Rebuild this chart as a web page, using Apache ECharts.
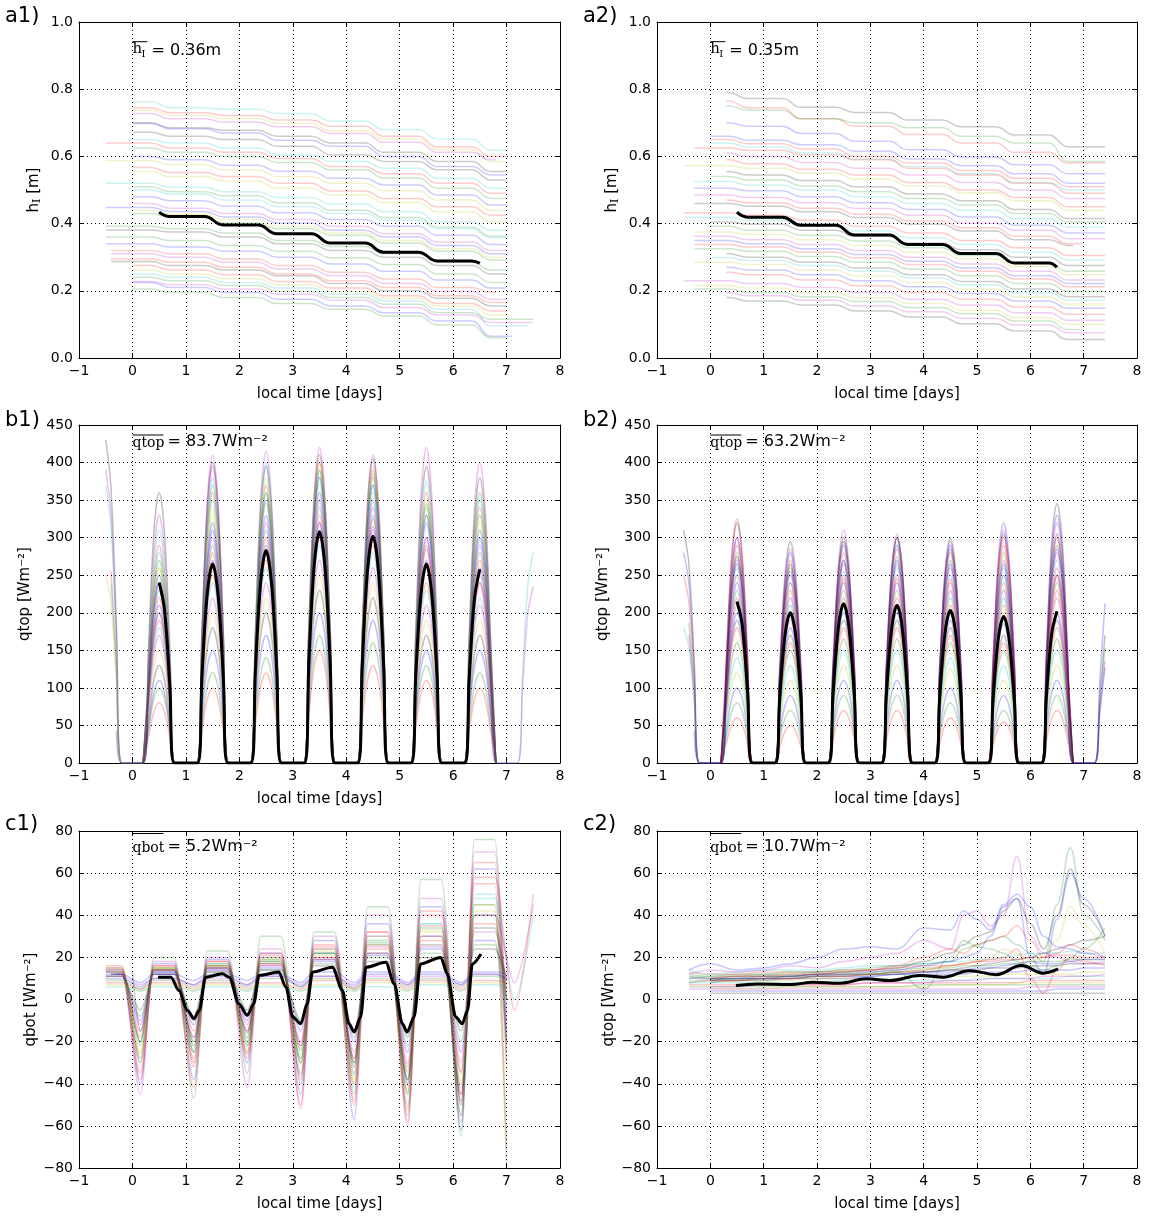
<!DOCTYPE html>
<html><head><meta charset="utf-8">
<script src="https://cdn.jsdelivr.net/npm/echarts/dist/echarts.min.js"></script>
<style>html,body{margin:0;padding:0;background:#fff}#c{width:1149px;height:1218px}</style>
</head><body><div id="c"></div><script>
// ---------- tick / axis values ----------
const xTickMin = -1, xTickMax = 8, xTickStep = 1;
const yTicksA = [0, 0.2, 0.4, 0.6, 0.8, 1.0];
const yTicksB = [0, 50, 100, 150, 200, 250, 300, 350, 400, 450];
const yTicksC = [-80, -60, -40, -20, 0, 20, 40, 60, 80];
const COLORS = {b:'#0000ff', g:'#008000', r:'#ff0000', c:'#00bfbf', m:'#bf00bf', y:'#bfbf00', k:'#000000'};

// ---------- panel a: ice thickness (plateau levels per night, 8 plateaus) ----------
const PLAT_START = [-0.3, 0.7, 1.7, 2.7, 3.7, 4.7, 5.7, 6.7];
const PLAT_END   = [0.35, 1.35, 2.35, 3.35, 4.35, 5.35, 6.35, 7.35];
const a1Members = [
 ['c',0,7.0,[.763,.745,.740,.728,.705,.680,.652,.618]],
 ['r',0,7.0,[.745,.730,.722,.708,.690,.660,.628,.600]],
 ['y',0,7.0,[.738,.722,.712,.698,.676,.652,.620,.585]],
 ['m',0,6.8,[.728,.712,.702,.688,.668,.642,.612,.590]],
 ['k',0,7.0,[.700,.685,.678,.660,.640,.612,.585,.555]],
 ['b',0,7.0,[.698,.682,.670,.648,.630,.600,.570,.545]],
 ['k',0,7.0,[.672,.660,.650,.630,.605,.585,.560,.530]],
 ['c',0,7.0,[.650,.640,.625,.605,.585,.565,.535,.505]],
 ['r',-0.5,7.0,[.640,.625,.612,.594,.570,.548,.520,.490]],
 ['g',0,7.0,[.625,.612,.600,.582,.560,.536,.505,.475]],
 ['b',0,7.0,[.600,.590,.574,.556,.535,.515,.485,.455]],
 ['y',-0.5,7.0,[.588,.575,.560,.540,.520,.498,.470,.440]],
 ['r',0,7.0,[.567,.552,.540,.520,.497,.475,.450,.425]],
 ['y',0,7.0,[.555,.540,.527,.505,.485,.463,.435,.405]],
 ['c',-0.5,7.0,[.520,.508,.495,.478,.458,.435,.405,.380]],
 ['g',0,7.0,[.510,.495,.483,.462,.440,.418,.390,.362]],
 ['c',0,7.0,[.500,.488,.470,.450,.430,.410,.385,.358]],
 ['b',0,7.0,[.480,.468,.452,.432,.412,.392,.365,.338]],
 ['m',0,7.0,[.460,.446,.430,.412,.392,.370,.345,.320]],
 ['b',-0.5,7.0,[.448,.436,.420,.402,.380,.360,.335,.310]],
 ['y',0,7.0,[.440,.428,.412,.392,.372,.350,.325,.300]],
 ['g',0,7.0,[.430,.418,.402,.385,.365,.342,.318,.292]],
 ['g',-0.5,7.0,[.392,.385,.372,.350,.332,.310,.285,.262]],
 ['k',-0.5,7.0,[.381,.375,.360,.340,.320,.300,.275,.250]],
 ['g',-0.5,7.0,[.360,.350,.335,.318,.298,.278,.250,.225]],
 ['b',-0.5,7.0,[.340,.330,.318,.300,.280,.258,.232,.208]],
 ['r',-0.4,6.8,[.320,.310,.295,.275,.255,.235,.210,.195]],
 ['m',-0.4,7.0,[.310,.300,.285,.265,.245,.222,.198,.175]],
 ['r',-0.4,7.0,[.295,.285,.270,.250,.230,.210,.185,.165]],
 ['k',-0.4,7.0,[.287,.275,.262,.245,.222,.200,.178,.155]],
 ['r',0,7.0,[.275,.262,.248,.228,.208,.185,.162,.140]],
 ['y',0,7.0,[.262,.250,.236,.218,.198,.178,.155,.128]],
 ['c',0,7.4,[.250,.240,.225,.208,.190,.170,.145,.095]],
 ['g',0,7.5,[.240,.230,.216,.198,.180,.160,.135,.115]],
 ['m',0,7.5,[.228,.218,.205,.190,.172,.150,.128,.106]],
 ['b',0,7.1,[.225,.210,.195,.175,.155,.135,.110,.065]],
 ['g',0,7.0,[.205,.195,.180,.162,.145,.125,.098,.060]]
];
const a2Members = [
 ['k',0.3,7.4,[.790,.772,.746,.731,.708,.688,.664,.629]],
 ['r',0.3,7.4,[.765,.745,.712,.690,.665,.640,.612,.580]],
 ['g',0.3,7.4,[.750,.738,.712,.700,.685,.660,.640,.585]],
 ['b',0.3,7.4,[.700,.690,.668,.645,.620,.598,.575,.548]],
 ['b',0,7.4,[.660,.648,.635,.615,.592,.572,.548,.520]],
 ['r',0,7.4,[.650,.638,.622,.600,.580,.558,.535,.510]],
 ['c',0,7.4,[.640,.628,.610,.592,.570,.548,.522,.500]],
 ['r',-0.3,7.4,[.625,.618,.605,.590,.565,.545,.520,.490]],
 ['m',0.3,7.4,[.610,.600,.582,.565,.545,.522,.500,.475]],
 ['r',0.3,7.4,[.590,.578,.562,.545,.522,.500,.478,.450]],
 ['y',-0.5,7.4,[.572,.565,.550,.532,.512,.492,.468,.440]],
 ['k',0.3,7.4,[.555,.545,.528,.510,.488,.468,.442,.415]],
 ['g',0,7.4,[.540,.530,.512,.495,.475,.455,.430,.405]],
 ['c',-0.3,7.4,[.525,.515,.500,.480,.460,.440,.415,.390]],
 ['b',-0.3,7.4,[.505,.498,.480,.462,.442,.420,.395,.372]],
 ['m',-0.3,7.4,[.485,.478,.462,.445,.425,.402,.380,.355]],
 ['r',0.3,7.0,[.470,.462,.446,.428,.408,.388,.362,.340]],
 ['k',-0.3,6.8,[.460,.452,.435,.418,.398,.378,.352,.335]],
 ['r',-0.5,7.4,[.432,.425,.410,.392,.372,.350,.328,.305]],
 ['c',-0.5,7.4,[.418,.410,.395,.378,.358,.338,.315,.292]],
 ['k',0,7.4,[.405,.398,.380,.362,.342,.322,.300,.275]],
 ['g',0,7.4,[.392,.380,.365,.348,.328,.305,.282,.258]],
 ['y',-0.3,7.4,[.375,.368,.352,.335,.315,.295,.272,.248]],
 ['m',-0.3,7.4,[.362,.352,.338,.320,.300,.280,.258,.232]],
 ['b',-0.3,7.4,[.350,.340,.325,.308,.288,.268,.245,.222]],
 ['r',-0.3,7.4,[.338,.330,.315,.298,.278,.258,.235,.212]],
 ['g',-0.3,7.4,[.325,.318,.302,.285,.265,.245,.222,.198]],
 ['k',0.3,7.4,[.310,.300,.285,.268,.248,.228,.205,.182]],
 ['c',0,7.4,[.298,.290,.275,.258,.238,.218,.195,.172]],
 ['y',-0.3,7.4,[.285,.278,.262,.245,.225,.205,.182,.160]],
 ['b',0.3,7.4,[.270,.262,.248,.230,.212,.192,.170,.148]],
 ['r',0.3,7.4,[.255,.248,.232,.215,.195,.175,.152,.130]],
 ['m',-0.5,7.4,[.230,.222,.210,.195,.175,.158,.135,.112]],
 ['y',-0.3,7.4,[.215,.208,.195,.180,.162,.142,.120,.100]],
 ['g',-0.3,7.0,[.205,.195,.182,.168,.150,.132,.110,.085]],
 ['m',0.3,7.4,[.195,.185,.172,.155,.138,.118,.098,.075]],
 ['k',0.3,7.4,[.180,.170,.158,.140,.122,.102,.080,.055]]
];
const a1MeanT = [0.5, 0.7, 1.35, 1.7, 2.35, 2.7, 3.35, 3.7, 4.35, 4.7, 5.35, 5.7, 6.35, 6.5];
const a1MeanV = [0.434, 0.421, 0.421, 0.396, 0.396, 0.370, 0.370, 0.342, 0.342, 0.315, 0.315, 0.289, 0.289, 0.282];
const a2MeanT = [0.5, 0.7, 1.35, 1.7, 2.35, 2.7, 3.35, 3.7, 4.35, 4.7, 5.35, 5.7, 6.35, 6.5];
const a2MeanV = [0.434, 0.419, 0.419, 0.395, 0.395, 0.366, 0.366, 0.338, 0.338, 0.311, 0.311, 0.283, 0.283, 0.270];

// ---------- panel b: qtop, daily peak values (days -1..7) ----------
const PROF_T = [0.2, 0.3, 0.4, 0.5, 0.6, 0.7, 0.8];
const PROF_F = [0, 0.43, 0.85, 1, 0.85, 0.43, 0];
const b1Members = [
 ['k',-0.5,7.0,[430,360,400,395,410,405,395,380,0]],
 ['m',-0.5,7.0,[390,330,395,415,420,410,420,400,0]],
 ['c',-0.5,7.0,[370,310,380,400,390,385,375,350,0]],
 ['r',-0.4,7.0,[300,290,360,370,400,390,360,340,0]],
 ['c',-0.4,7.5,[280,280,350,360,380,370,340,330,280]],
 ['y',-0.5,7.0,[250,260,330,345,370,360,330,320,0]],
 ['b',0,7.0,[0,250,320,330,360,350,320,300,0]],
 ['m',0,7.5,[0,240,300,320,350,340,300,290,235]],
 ['g',0,7.0,[0,230,290,310,340,330,290,280,0]],
 ['r',0,7.0,[0,220,280,300,330,325,285,270,0]],
 ['b',0,7.0,[0,210,270,290,320,315,270,260,0]],
 ['g',0,7.0,[0,200,260,280,310,300,260,250,0]],
 ['r',0,7.0,[0,190,250,270,300,290,240,240,0]],
 ['c',0,7.0,[0,180,240,260,290,280,230,220,0]],
 ['m',0,7.0,[0,170,220,240,270,260,210,210,0]],
 ['y',0,7.0,[0,150,200,220,250,240,190,190,0]],
 ['k',0,7.0,[0,130,180,200,230,220,170,170,0]],
 ['b',0,7.0,[0,110,150,170,200,190,150,150,0]],
 ['g',0,7.0,[0,100,120,140,170,160,130,120,0]],
 ['r',0,7.0,[0,80,100,120,150,130,110,100,0]],
 ['y',0,6.8,[0,260,340,380,400,395,350,330,0]],
 ['b',-0.3,7.0,[100,240,310,350,380,370,330,310,0]],
 ['g',0,7.0,[0,270,370,360,390,380,345,360,0]],
 ['m',0,7.0,[0,200,410,280,320,310,300,240,0]]
];
const b2Members = [
 ['k',-0.5,7.4,[310,320,295,300,300,300,305,345,200]],
 ['b',-0.5,7.4,[280,300,280,290,290,290,320,330,250]],
 ['r',-0.5,7.0,[250,290,270,280,285,280,290,300,0]],
 ['g',-0.4,7.4,[220,280,260,270,275,270,280,290,180]],
 ['m',-0.4,7.0,[200,270,250,265,265,260,270,280,0]],
 ['c',-0.5,7.0,[180,260,240,255,260,250,260,270,0]],
 ['r',0,7.0,[0,250,230,245,245,240,240,260,0]],
 ['b',0,7.4,[0,240,220,240,240,230,230,250,150]],
 ['g',0,7.0,[0,230,210,230,230,220,220,240,0]],
 ['r',0,7.0,[0,220,200,220,220,210,210,230,0]],
 ['m',0,7.0,[0,210,190,210,210,200,195,220,0]],
 ['b',0,7.0,[0,200,180,200,200,190,185,200,0]],
 ['k',0,7.0,[0,190,170,190,190,180,170,190,0]],
 ['r',0,7.0,[0,180,160,180,180,170,160,180,0]],
 ['g',0,7.0,[0,160,150,165,165,160,150,165,0]],
 ['c',0,7.0,[0,140,130,150,150,140,130,150,0]],
 ['y',0,7.0,[0,120,110,130,130,125,110,130,0]],
 ['b',0,7.0,[0,100,90,110,110,100,90,110,0]],
 ['g',0,7.0,[0,80,70,90,90,80,70,90,0]],
 ['r',0,7.0,[0,60,50,70,70,60,55,70,0]],
 ['m',0,7.4,[0,300,285,310,305,295,310,320,160]],
 ['b',-0.3,7.0,[100,265,255,270,270,265,265,285,0]],
 ['r',0,7.0,[0,325,240,250,250,245,300,250,0]],
 ['k',0,7.0,[0,275,265,295,300,285,250,305,0]]
];
const b1MeanT = [0.5,0.6,0.7,0.78, 1.22,1.3,1.4,1.5,1.6,1.7,1.78, 2.22,2.3,2.4,2.5,2.6,2.7,2.78, 3.22,3.3,3.4,3.5,3.6,3.7,3.78, 4.22,4.3,4.4,4.5,4.6,4.7,4.78, 5.22,5.3,5.4,5.5,5.6,5.7,5.78, 6.22,6.3,6.4,6.5];
const b1MeanV = [240,204,103,0, 0,114,225,265,225,114,0, 0,122,241,283,241,122,0, 0,132,262,308,262,132,0, 0,130,257,302,257,130,0, 0,114,225,265,225,114,0, 0,111,219,258];
const b2MeanT = b1MeanT;
const b2MeanV = [215,183,92,0, 0,86,170,200,170,86,0, 0,91,180,212,180,91,0, 0,90,179,210,179,90,0, 0,87,173,203,173,87,0, 0,84,166,195,166,84,0, 0,87,172,202];

// ---------- panel c1: qbot (start value, day plateaus 0..6, dips at d+0.15, end value) ----------
const c1Members = [
 ['g',-0.5,7.0,15,[20,23,30,32,44,57,76],[-30,-47,-35,-40,-45,-55,-65,0],-20],
 ['m',-0.5,7.0,14,[18,20,24,30,40,48,70],[-45,-30,-42,-52,-35,-60,-50,0],-10],
 ['b',-0.5,7.0,13,[17,19,22,28,36,44,62],[-40,-38,-30,-45,-57,-40,-62,0],-30],
 ['r',-0.5,7.0,16,[16,18,21,26,32,40,55],[-35,-28,-25,-50,-50,-58,-45,0],-70],
 ['c',-0.4,7.0,12,[15,17,20,24,30,36,50],[-30,-25,-22,-35,-42,-50,-55,0],-5],
 ['y',-0.4,7.0,12,[15,16,19,23,28,33,45],[-25,-20,-20,-30,-38,-45,-40,0],0],
 ['k',-0.5,7.0,14,[14,16,18,22,26,30,40],[-20,-22,-18,-28,-32,-38,-48,0],-15],
 ['r',-0.5,7.0,13,[14,15,17,20,24,28,36],[-18,-15,-15,-22,-28,-34,-35,0],5],
 ['m',-0.3,7.0,12,[13,15,16,19,22,25,32],[-12,-18,-12,-20,-25,-30,-30,0],8],
 ['b',-0.3,7.0,12,[13,14,15,18,21,24,28],[-10,-12,-10,-15,-20,-25,-25,0],-20],
 ['g',-0.5,7.0,11,[12,13,14,17,20,22,26],[-8,-10,-8,-12,-18,-22,-20,0],0],
 ['k',-0.5,7.0,11,[12,13,14,16,18,20,24],[-5,-8,-5,-10,-15,-18,-15,0],10],
 ['r',-0.5,7.0,15,[16,18,22,25,30,35,65],[-38,-42,-28,-38,-40,-52,-58,0],-25],
 ['r',-0.4,7.5,12,[14,16,20,24,32,42,58],[-28,-32,-26,-36,-48,-44,-50,-5],50],
 ['c',-0.4,7.5,12,[13,15,18,22,28,36,48],[-22,-25,-20,-30,-36,-40,-42,0],40],
 ['m',-0.4,7.5,12,[12,14,16,20,25,30,40],[-15,-18,-15,-22,-28,-32,-34,8],45],
 ['b',-0.5,7.0,10,[10,11,11,11,12,12,12],[6,7,7,6,6,7,7,0],10],
 ['g',-0.5,7.0,9,[9,9,10,10,10,10,11],[5,6,6,6,5,6,6,0],9],
 ['r',-0.5,7.0,8,[8,8,8,9,9,9,9],[5,5,5,5,5,5,5,0],8],
 ['y',-0.5,7.0,7,[7,7,7,7,8,8,8],[4,4,4,4,4,4,4,0],7],
 ['c',-0.5,7.0,6,[6,6,6,6,6,7,7],[4,4,4,4,4,4,4,0],6],
 ['b',-0.5,7.0,12,[12,12,12,13,13,13,13],[8,9,9,8,8,8,8,0],12],
 ['m',-0.5,7.0,11,[10,10,11,11,11,11,12],[7,7,7,7,7,7,7,0],10],
 ['k',0,7.0,13,[14,15,17,19,22,26,34],[-15,-20,-16,-24,-30,-38,-45,0],0],
 ['g',-0.5,7.0,13,[15,17,19,22,27,34,45],[-20,-25,-22,-30,-30,-45,-55,0],-80],
 ['y',-0.4,7.0,13,[15,16,18,21,26,32,42],[-26,-30,-25,-26,-40,-35,-40,0],-35]
];
const c1MeanT = [0.48,0.72,0.87,1.03,1.15,1.25,1.37,1.68,1.81,1.99,2.15,2.27,2.37,2.74,2.87,3.0,3.15,3.27,3.37,3.74,3.93,4.05,4.15,4.27,4.37,4.74,4.9,5.05,5.14,5.27,5.39,5.77,5.89,6.05,6.17,6.27,6.36,6.52];
const c1MeanV = [10.6,10.6,4.3,-5.2,-9.1,-5.2,10.6,12.2,10.6,-2,-7.5,-2,11.4,13,5.9,-8.3,-11.5,-2,13,15.3,4.3,-11.5,-15.4,-8.3,15.3,17.7,7.4,-11.5,-15.4,-8.3,16.9,20,12.2,-8.3,-11.5,-5.2,16.9,21.6];

// ---------- panel c2: values on a common time grid ----------
const c2T = [-0.4,0,0.5,1,1.5,2,2.5,3,3.5,4,4.5,4.75,5,5.25,5.5,5.75,6,6.25,6.5,6.75,7,7.4];
const c2Members = [
 ['k',[null,3,3,3,3,3,3,3,3,3,3,3,3,3,3,3,3,3,3,3,3,3]],
 ['b',[null,4,4,4,4,4,4,4,4,4,4,4,4,4,4,4,4,4,5,5,5,5]],
 ['m',[5,5,5,5,5,5,5,5,5,5,5,5,5,5,5,5,6,6,6,6,6,6]],
 ['g',[6,6,6,6,6,6,6,6,6,7,7,7,7,7,7,7,7,7,7,7,7,7]],
 ['r',[7,7,7,7,7,7,7,8,8,8,8,8,8,8,8,8,9,9,9,9,9,9]],
 ['c',[8,8,8,8,8,8,9,9,9,9,9,9,10,10,10,10,10,10,10,11,11,11]],
 ['y',[9,9,9,9,9,10,10,10,10,11,11,11,11,11,12,12,12,12,12,12,13,13]],
 ['b',[10,10,10,10,10,11,11,11,12,12,12,12,13,13,13,13,14,14,14,14,15,15]],
 ['k',[11,10,11,11,11,12,12,12,13,13,14,14,14,15,15,15,16,16,16,17,17,17]],
 ['g',[12,11,12,12,12,13,13,13,14,15,15,16,16,16,17,17,18,18,18,19,19,19]],
 ['r',[13,12,12,13,13,13,14,14,15,16,16,17,18,18,19,19,20,20,21,21,20,20]],
 ['c',[14,12,13,14,14,14,15,16,16,17,18,18,19,19,20,21,22,22,22,23,22,22]],
 ['m',[null,6,6,7,7,7,7,8,8,8,9,9,9,10,10,10,10,11,11,11,11,12]],
 ['y',[null,5,5,5,6,6,6,6,6,6,7,7,7,7,7,8,8,8,8,8,8,8]],
 ['b',[null,8,9,9,10,10,10,11,12,13,13,14,15,15,16,17,18,17,17,18,19,19]],
 ['k',[8,9,9,10,10,11,11,12,12,13,14,15,16,17,18,19,20,22,24,26,28,30]],
 ['b',[14,17,14,15,17,20,24,25,24,34,33,42,38,33,45,50,44,30,25,24,22,20]],
 ['m',[12,14,13,14,16,15,18,20,22,28,24,40,42,35,40,68,30,22,20,18,17,18]],
 ['k',[null,10,10,11,11,12,13,14,15,18,22,26,30,32,42,48,36,24,40,62,45,30]],
 ['g',[10,11,11,12,13,13,14,15,16,17,18,24,26,28,30,26,22,18,45,72,40,28]],
 ['b',[null,9,10,10,11,12,12,13,14,16,18,20,22,30,44,48,20,12,38,60,48,30]],
 ['y',[null,8,9,9,10,10,11,12,13,14,16,17,18,20,24,22,18,20,28,44,35,22]],
 ['r',[null,9,9,10,10,11,11,12,13,14,16,17,18,19,20,24,10,3,14,20,18,16]],
 ['g',[null,9,10,10,11,11,12,12,13,5,20,28,25,24,22,18,16,14,16,20,24,34]],
 ['r',[null,10,11,11,12,12,13,14,16,20,24,22,26,28,30,35,28,20,22,26,24,20]]
];
const c2MeanT = [0.48,0.87,1.5,1.93,2.43,2.93,3.37,3.93,4.37,4.86,5.36,5.83,6.24,6.52];
const c2MeanV = [6.6,7.4,7.1,8.2,7.7,9.8,9.0,11.4,10.6,13.7,11.8,16.1,12.5,14.5];

// ---------- builders ----------
function stepPoints(s, e, L) {
  const pts = [];
  for (let k = 0; k < 8; k++) {
    const a = k === 0 ? s : Math.max(PLAT_START[k], s);
    const b = k === 7 ? e : Math.min(PLAT_END[k], e);
    if (a < b) { pts.push([a, L[k]]); pts.push([b, L[k]]); }
  }
  return pts;
}
function peakPoints(s, e, P) {
  const pts = [];
  for (let j = 0; j < P.length; j++) {
    const d = j - 1;
    for (let i = 0; i < PROF_T.length; i++) {
      const t = +(d + PROF_T[i]).toFixed(2);
      if (t >= s - 1e-9 && t <= e + 1e-9) pts.push([t, P[j] * PROF_F[i]]);
    }
  }
  return pts;
}
function qbotPoints(s, e, v0, P, D, endV) {
  const pts = [[s, v0]];
  if (s < -0.2) pts.push([-0.2, v0]);
  pts.push([0.15, D[0]]);
  for (let d = 0; d < 7; d++) {
    pts.push([d + 0.4, P[d]]);
    pts.push([d + 0.78, P[d]]);
    if (d < 6) pts.push([d + 1.15, D[d + 1]]);
  }
  if (e > 7.15) pts.push([7.15, D[7]]);
  pts.push([e, endV]);
  return pts;
}
function zip(t, v) { return t.map((x, i) => [x, v[i]]); }

// ---------- layout ----------
const FONT = 'DejaVu Sans';
const grids = [
  {left:79,  top:22,  width:481, height:336},
  {left:657, top:22,  width:480, height:336},
  {left:79,  top:425, width:481, height:338},
  {left:657, top:425, width:480, height:338},
  {left:79,  top:831, width:481, height:337},
  {left:657, top:831, width:480, height:337}
];
const minus = v => (v < 0 ? '\u2212' : '') + Math.abs(v);
const yCfg = [
  {t:yTicksA, fmt:v=>v.toFixed(1), name:'h{s|I} [m]', gap:36},
  {t:yTicksA, fmt:v=>v.toFixed(1), name:'h{s|I} [m]', gap:36},
  {t:yTicksB, fmt:v=>String(v), name:'qtop [Wm\u207B\u00B2]', gap:46},
  {t:yTicksB, fmt:v=>String(v), name:'qtop [Wm\u207B\u00B2]', gap:46},
  {t:yTicksC, fmt:minus, name:'qbot [Wm\u207B\u00B2]', gap:40},
  {t:yTicksC, fmt:minus, name:'qtop [Wm\u207B\u00B2]', gap:40}
];
const xAxes = [], yAxes = [];
const tick = {show:true, inside:true, length:5, lineStyle:{color:'#000', width:1}};
const aLine = {show:true, onZero:false, lineStyle:{color:'#000', width:1}};
const split = {show:true, lineStyle:{color:'#000', width:1, type:[1,3]}};
grids.forEach((g, i) => {
  xAxes.push({type:'value', gridIndex:i, position:'bottom', min:xTickMin, max:xTickMax, interval:xTickStep,
    axisLine:aLine, axisTick:tick, splitLine:split,
    axisLabel:{color:'#000', fontSize:14, fontFamily:FONT, margin:6, formatter:minus},
    name:'local time [days]', nameLocation:'middle', nameGap:29,
    nameTextStyle:{color:'#000', fontSize:15, fontFamily:FONT}});
  xAxes.push({type:'value', gridIndex:i, position:'top', min:xTickMin, max:xTickMax, interval:xTickStep,
    axisLine:aLine, axisTick:tick, splitLine:{show:false}, axisLabel:{show:false}});
  const yc = yCfg[i], tt = yc.t;
  const iv = tt[1] - tt[0];
  yAxes.push({type:'value', gridIndex:i, position:'left', min:tt[0], max:tt[tt.length-1], interval:iv,
    axisLine:aLine, axisTick:tick, splitLine:split,
    axisLabel:{color:'#000', fontSize:14, fontFamily:FONT, margin:6, formatter:yc.fmt},
    name:yc.name, nameLocation:'middle', nameRotate:90, nameGap:yc.gap,
    nameTextStyle:{color:'#000', fontSize:15, fontFamily:FONT,
      rich:{s:{fontSize:11, fontFamily:'DejaVu Serif', color:'#000', verticalAlign:'bottom', padding:[6,0,0,0]}}}});
  yAxes.push({type:'value', gridIndex:i, position:'right', min:tt[0], max:tt[tt.length-1], interval:iv,
    axisLine:aLine, axisTick:tick, splitLine:{show:false}, axisLabel:{show:false}});
});

const series = [];
function thin(i, col, data, smooth, mono, op) {
  series.push({type:'line', xAxisIndex:2*i, yAxisIndex:2*i, data, showSymbol:false, symbol:'none',
    smooth: smooth, smoothMonotone: mono, silent:true, z:2,
    lineStyle:{color:COLORS[col], width:1.5, opacity:op}});
}
function bold(i, data, smooth, mono) {
  series.push({type:'line', xAxisIndex:2*i, yAxisIndex:2*i, data, showSymbol:false, symbol:'none',
    smooth: smooth, smoothMonotone: mono, silent:true, z:5,
    lineStyle:{color:'#000', width:3, opacity:1}});
}
a1Members.forEach(m => thin(0, m[0], stepPoints(m[1], m[2], m[3]), 0.5, 'x', 0.2));
a2Members.forEach(m => thin(1, m[0], stepPoints(m[1], m[2], m[3]), 0.5, 'x', 0.2));
b1Members.forEach(m => thin(2, m[0], peakPoints(m[1], m[2], m[3]), 0.35, null, 0.25));
b2Members.forEach(m => thin(3, m[0], peakPoints(m[1], m[2], m[3]), 0.35, null, 0.25));
c1Members.forEach(m => thin(4, m[0], qbotPoints(m[1], m[2], m[3], m[4], m[5], m[6]), 0.3, 'x', 0.22));
c2Members.forEach(m => thin(5, m[0], zip(c2T, m[1]), 0.4, 'x', 0.22));
bold(0, zip(a1MeanT, a1MeanV), 0.5, 'x');
bold(1, zip(a2MeanT, a2MeanV), 0.5, 'x');
bold(2, zip(b1MeanT, b1MeanV), 0.35, null);
bold(3, zip(b2MeanT, b2MeanV), 0.35, null);
bold(4, zip(c1MeanT, c1MeanV), 0.3, 'x');
bold(5, zip(c2MeanT, c2MeanV), 0.4, 'x');

// ---------- texts ----------
const panelLabels = ['a1)', 'a2)', 'b1)', 'b2)', 'c1)', 'c2)'];
const meanSym = ['h', 'h', 'qtop', 'qtop', 'qbot', 'qbot'];
const meanTxt = ['= 0.36m', '= 0.35m', '= 83.7Wm\u207B\u00B2', '= 63.2Wm\u207B\u00B2', '= 5.2Wm\u207B\u00B2', '= 10.7Wm\u207B\u00B2'];
const labelPos = [[5,17],[583,17],[5,421],[583,421],[5,825],[583,825]];
const elements = [];
grids.forEach((g, i) => {
  elements.push({type:'text', x:labelPos[i][0], y:labelPos[i][1],
    style:{text:panelLabels[i], font:'21px "DejaVu Sans"', fill:'#000', textAlign:'left', textVerticalAlign:'middle'}});
  const x0 = g.left + g.width / 9;
  const row = Math.floor(i / 2);
  let textY, overY, symW;
  if (row === 0) { textY = g.top + 28.5; overY = g.top + 19.7; symW = 15; }
  else if (row === 1) { textY = g.top + 17; overY = g.top + 10; symW = 31; }
  else { textY = g.top + 16; overY = g.top + 2.5; symW = 31; }
  if (row === 0) {
    elements.push({type:'text', x:x0, y:textY - 1.5, style:{text:'h', font:'15px "DejaVu Serif"', fill:'#000', textAlign:'left', textVerticalAlign:'middle'}});
    elements.push({type:'text', x:x0 + 9, y:textY + 3.5, style:{text:'I', font:'10px "DejaVu Serif"', fill:'#000', textAlign:'left', textVerticalAlign:'middle'}});
  } else {
    elements.push({type:'text', x:x0, y:textY + 1, style:{text:meanSym[i], font:'14px "DejaVu Serif"', fill:'#000', textAlign:'left', textVerticalAlign:'middle'}});
  }
  elements.push({type:'line', shape:{x1:x0, y1:overY, x2:x0 + symW, y2:overY}, style:{stroke:'#000', lineWidth:1}});
  elements.push({type:'text', x:x0 + symW + 4, y:textY,
    style:{text:meanTxt[i], font:'16px "DejaVu Sans"', fill:'#000', textAlign:'left', textVerticalAlign:'middle'}});
});

const chart = echarts.init(document.getElementById('c'), null, {renderer:'canvas'});
chart.setOption({
  animation:false,
  backgroundColor:'#fff',
  textStyle:{fontFamily:FONT},
  grid:grids,
  xAxis:xAxes,
  yAxis:yAxes,
  series:series,
  graphic:{elements:elements}
});
</script></body></html>
